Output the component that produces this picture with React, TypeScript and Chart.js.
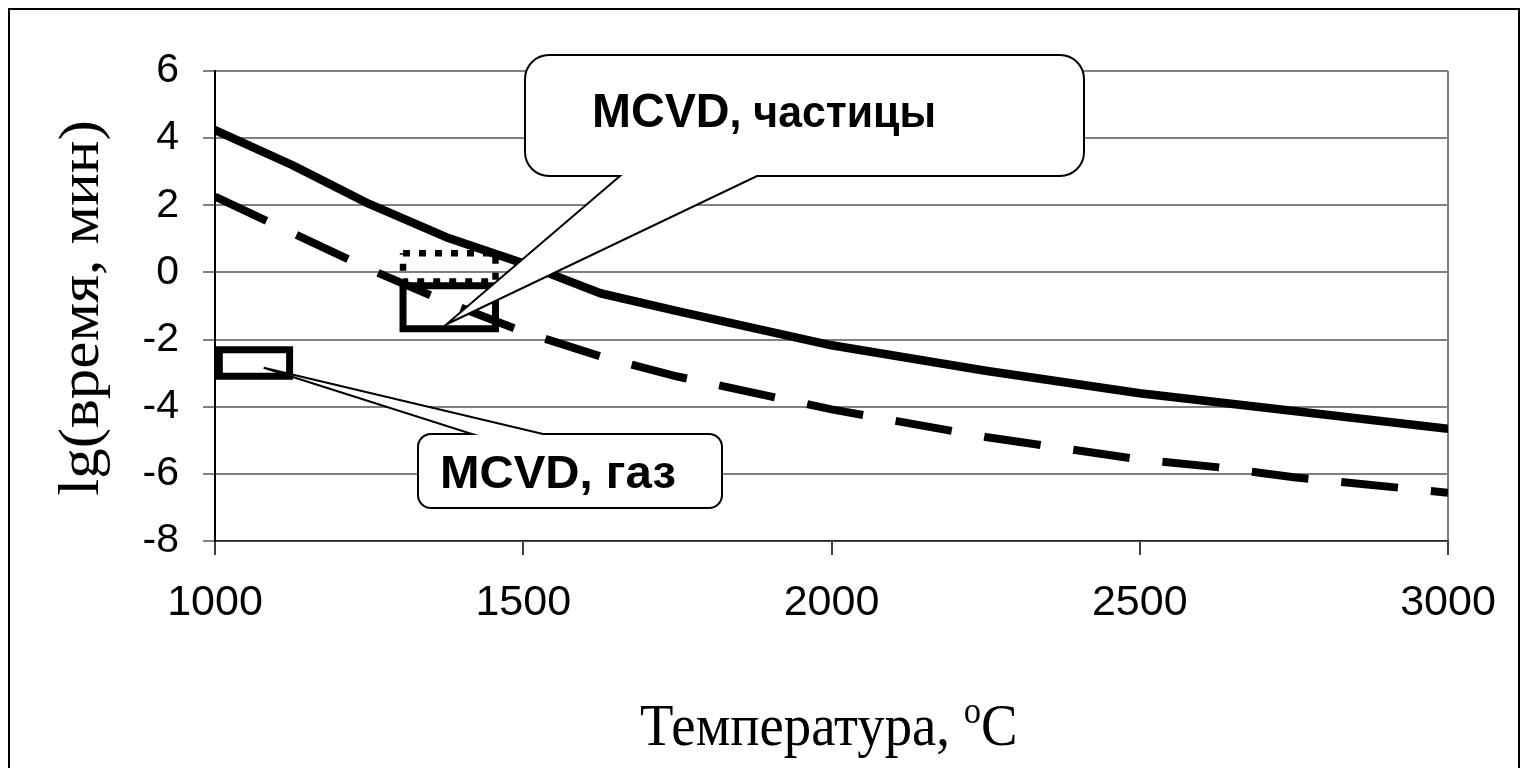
import React, { useEffect, useRef } from 'react';
import { Chart, registerables } from 'chart.js';

Chart.register(...registerables);

// ---- data ----
const xTickValues = [1000, 1500, 2000, 2500, 3000];
const xTickLabels = ['1000', '1500', '2000', '2500', '3000'];
const yTickValues = [-8, -6, -4, -2, 0, 2, 4, 6];
const yTickLabels = ['-8', '-6', '-4', '-2', '0', '2', '4', '6'];

const temperatureSolid = [1000, 1125, 1250, 1375, 1500, 1625, 1750, 2000, 2250, 2500, 2750, 3000];
const lgTimeSolid = [4.24, 3.2, 2.04, 1.05, 0.27, -0.62, -1.15, -2.17, -2.93, -3.6, -4.13, -4.66];

const temperatureDashed = [1000, 1125, 1250, 1375, 1500, 1625, 1750, 2000, 2250, 2500, 2625, 2750, 3000];
const lgTimeDashed = [2.26, 1.18, 0.1, -0.88, -1.77, -2.5, -3.1, -4.08, -4.9, -5.57, -5.8, -6.1, -6.56];

const gasRectX = [1007, 1121];
const gasRectY = [-2.3, -3.09];
const particleRectX = [1305, 1455];
const particleRectY = [-0.4, -1.68];
const particleDotRectX = [1305, 1455];
const particleDotRectY = [0.57, -0.27];

const particleLabel = ['MCVD', ', частицы'];
const gasLabel = 'MCVD, газ';
const particleTip = [1375, -1.55];
const gasTip = [1079, -2.84];

const xTitle = 'Температура, ';
const xTitleSup = 'o';
const xTitleEnd = 'C';
const yTitle = 'lg(время, мин)';

const toPoints = (xs: number[], ys: number[]) => xs.map((x, i) => ({ x, y: ys[i] }));
const rectPoints = (xs: number[], ys: number[]) => [
  { x: xs[0], y: ys[0] },
  { x: xs[1], y: ys[0] },
  { x: xs[1], y: ys[1] },
  { x: xs[0], y: ys[1] },
  { x: xs[0], y: ys[0] },
];

const SANS = '"Liberation Sans", Arial, sans-serif';
const SERIF = '"Liberation Serif", "Times New Roman", serif';

function calloutPath(
  ctx: CanvasRenderingContext2D,
  l: number, t: number, r: number, b: number, rad: number,
  side: 'top' | 'bottom', b1: number, b2: number, tx: number, ty: number
) {
  ctx.beginPath();
  ctx.moveTo(l + rad, t);
  if (side === 'top') {
    ctx.lineTo(b1, t);
    ctx.lineTo(tx, ty);
    ctx.lineTo(b2, t);
  }
  ctx.arcTo(r, t, r, b, rad);
  ctx.arcTo(r, b, l, b, rad);
  if (side === 'bottom') {
    ctx.lineTo(b2, b);
    ctx.lineTo(tx, ty);
    ctx.lineTo(b1, b);
  }
  ctx.arcTo(l, b, l, t, rad);
  ctx.arcTo(l, t, r, t, rad);
  ctx.closePath();
}

function drawParts(
  ctx: CanvasRenderingContext2D,
  parts: { text: string; font: string }[],
  x: number, y: number, targetWidth: number
) {
  let total = 0;
  for (const p of parts) {
    ctx.font = p.font;
    total += ctx.measureText(p.text).width;
  }
  const s = targetWidth / total;
  ctx.save();
  ctx.translate(x, y);
  ctx.scale(s, 1);
  ctx.textAlign = 'left';
  ctx.textBaseline = 'alphabetic';
  ctx.fillStyle = '#000';
  let cx = 0;
  for (const p of parts) {
    ctx.font = p.font;
    ctx.fillText(p.text, cx, 0);
    cx += ctx.measureText(p.text).width;
  }
  ctx.restore();
}

const calloutPlugin = {
  id: 'callouts',
  afterDatasetsDraw(chart: any) {
    const ctx: CanvasRenderingContext2D = chart.ctx;
    const xs = chart.scales.x;
    const ys = chart.scales.y;
    ctx.save();
    ctx.lineWidth = 2;
    ctx.strokeStyle = '#000';
    ctx.fillStyle = '#fff';
    ctx.lineJoin = 'miter';

    const t1x = xs.getPixelForValue(particleTip[0]);
    const t1y = ys.getPixelForValue(particleTip[1]);
    calloutPath(ctx, 515, 45, 1074, 166, 24, 'bottom', 610, 747, t1x, t1y);
    ctx.fill();
    ctx.stroke();

    const t2x = xs.getPixelForValue(gasTip[0]);
    const t2y = ys.getPixelForValue(gasTip[1]);
    ctx.fillStyle = '#fff';
    calloutPath(ctx, 408, 424, 712, 498, 13, 'top', 462, 533, t2x, t2y);
    ctx.fill();
    ctx.stroke();
    ctx.restore();

    drawParts(
      ctx,
      [
        { text: particleLabel[0], font: `bold 48px ${SANS}` },
        { text: particleLabel[1], font: `bold 44px ${SANS}` },
      ],
      582, 117, 344
    );
    drawParts(ctx, [{ text: gasLabel, font: `bold 46px ${SANS}` }], 430, 478, 236);
  },
  afterDraw(chart: any) {
    const ctx: CanvasRenderingContext2D = chart.ctx;
    // x title
    ctx.save();
    ctx.fillStyle = '#000';
    ctx.font = `60px ${SERIF}`;
    const wMain = ctx.measureText('Температура,').width;
    const s = 310 / wMain;
    ctx.translate(630, 735);
    ctx.scale(s, 1);
    ctx.textBaseline = 'alphabetic';
    ctx.textAlign = 'left';
    ctx.fillText(xTitle, 0, 0);
    let cx = ctx.measureText(xTitle).width;
    ctx.font = `38px ${SERIF}`;
    ctx.fillText(xTitleSup, cx, -22);
    cx += ctx.measureText(xTitleSup).width;
    ctx.font = `60px ${SERIF}`;
    ctx.fillText(xTitleEnd, cx, 0);
    ctx.restore();

    // y title
    ctx.save();
    ctx.fillStyle = '#000';
    ctx.font = `61px ${SERIF}`;
    ctx.translate(88, 298);
    ctx.scale(0.93, 1);
    ctx.rotate(-Math.PI / 2);
    ctx.textAlign = 'center';
    ctx.textBaseline = 'alphabetic';
    ctx.fillText(yTitle, 0, 0);
    ctx.restore();
  },
};

export default function App() {
  const canvasRef = useRef<HTMLCanvasElement | null>(null);

  useEffect(() => {
    document.documentElement.style.overflow = 'hidden';
    const canvas = canvasRef.current;
    if (!canvas) return;
    const chart = new Chart(canvas, {
      type: 'line',
      data: {
        datasets: [
          {
            label: 'gas',
            data: rectPoints(gasRectX, gasRectY),
            borderColor: '#000',
            borderWidth: 7,
            borderCapStyle: 'square',
            borderJoinStyle: 'miter',
            pointRadius: 0,
            tension: 0,
            fill: false,
          },
          {
            label: 'particles dotted',
            data: rectPoints(particleDotRectX, particleDotRectY),
            borderColor: '#000',
            borderWidth: 6.5,
            borderDash: [7, 9],
            borderCapStyle: 'butt',
            borderJoinStyle: 'miter',
            pointRadius: 0,
            tension: 0,
            fill: false,
          },
          {
            label: 'particles',
            data: rectPoints(particleRectX, particleRectY),
            borderColor: '#000',
            borderWidth: 7,
            borderCapStyle: 'square',
            borderJoinStyle: 'miter',
            pointRadius: 0,
            tension: 0,
            fill: false,
          },
          {
            label: 'solid',
            data: toPoints(temperatureSolid, lgTimeSolid),
            borderColor: '#000',
            borderWidth: 8.5,
            borderCapStyle: 'round',
            borderJoinStyle: 'round',
            pointRadius: 0,
            tension: 0,
            fill: false,
          },
          {
            label: 'dashed',
            data: toPoints(temperatureDashed, lgTimeDashed),
            borderColor: '#000',
            borderWidth: 8,
            borderDash: [57, 33],
            borderCapStyle: 'butt',
            borderJoinStyle: 'miter',
            pointRadius: 0,
            tension: 0,
            fill: false,
          },
        ],
      },
      options: {
        responsive: false,
        animation: false,
        events: [],
        layout: { padding: { top: 61, right: 70, left: 0, bottom: 0 } },
        plugins: {
          legend: { display: false },
          tooltip: { enabled: false },
          title: { display: false },
        },
        scales: {
          x: {
            type: 'linear',
            min: 1000,
            max: 3000,
            afterBuildTicks: (scale: any) => {
              scale.ticks = xTickValues.map((v) => ({ value: v }));
            },
            afterFit: (scale: any) => {
              scale.height = 227;
            },
            grid: {
              color: (c: any) => (c.tick && c.tick.value === 3000 ? '#808080' : 'rgba(0,0,0,0)'),
              lineWidth: 2,
              tickLength: 14,
              tickColor: '#000',
              tickWidth: 1.5,
            },
            border: { color: '#222', width: 1.5 },
            ticks: {
              color: '#000',
              font: { family: SANS, size: 43 },
              padding: 22,
              maxRotation: 0,
              autoSkip: false,
              callback: (_v: any, i: number) => xTickLabels[i],
            },
          },
          y: {
            type: 'linear',
            min: -8,
            max: 6,
            afterBuildTicks: (scale: any) => {
              scale.ticks = yTickValues.map((v) => ({ value: v }));
            },
            afterFit: (scale: any) => {
              scale.width = 205;
            },
            grid: {
              color: '#808080',
              lineWidth: 2,
              tickLength: 12,
              tickColor: '#808080',
            },
            border: { color: '#000', width: 2 },
            ticks: {
              color: '#000',
              font: { family: SANS, size: 41 },
              padding: 24,
              autoSkip: false,
              callback: (_v: any, i: number) => yTickLabels[i],
            },
          },
        },
      } as any,
      plugins: [calloutPlugin],
    });
    return () => chart.destroy();
  }, []);

  return (
    <div
      style={{
        position: 'fixed',
        left: 8,
        top: 8,
        width: 1512,
        height: 780,
        border: '2px solid #000',
        borderBottom: 'none',
        boxSizing: 'border-box',
        background: '#fff',
      }}
    >
      <canvas ref={canvasRef} width={1508} height={758} style={{ display: 'block' }} />
    </div>
  );
}
